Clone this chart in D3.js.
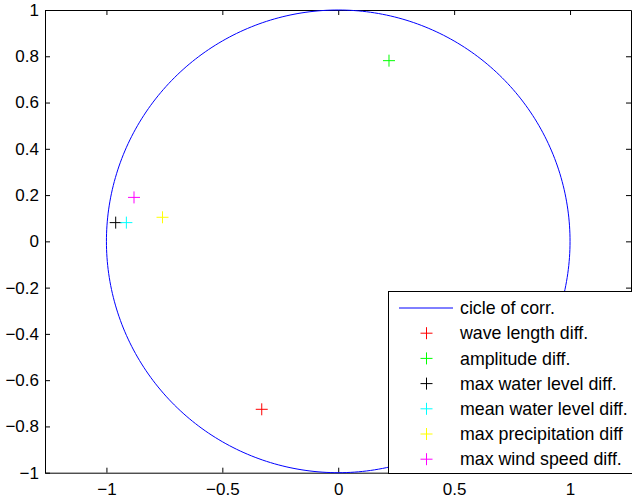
<!DOCTYPE html>
<html>
<head>
<meta charset="utf-8">
<script src="https://cdn.jsdelivr.net/npm/d3@7"></script>
<style>
  html, body { margin: 0; padding: 0; background: #fff; }
  svg { display: block; }
  text { font-family: "Liberation Sans", Arial, Helvetica, sans-serif; }
</style>
</head>
<body>
<svg id="chart" width="632" height="501"></svg>
<script>
// Correlation circle: variable loadings on two components
const seriesNames = ["wave length diff.", "amplitude diff.", "max water level diff.",
                     "mean water level diff.", "max precipitation diff", "max wind speed diff."];
const seriesColors = ["#ff0000", "#00ff00", "#000000", "#00ffff", "#ffff00", "#ff00ff"];
const xValues = [-0.33, 0.219, -0.96, -0.914, -0.758, -0.881];
const yValues = [-0.726, 0.781, 0.081, 0.081, 0.104, 0.19];
const circleLabel = "cicle of corr.";
const xTicks = [-1, -0.5, 0, 0.5, 1];
const yTicks = [-1, -0.8, -0.6, -0.4, -0.2, 0, 0.2, 0.4, 0.6, 0.8, 1];

const svg = d3.select("#chart");
const plotLeft = 45, plotRight = 631, plotTop = 10, plotBottom = 472.7;
const fontSize = 17, legendFontSize = 17.8;

const x = d3.scaleLinear().domain([-1.265, 1.263]).range([plotLeft, plotRight]);
const y = d3.scaleLinear().domain([-1, 1]).range([plotBottom, plotTop]);

const fmt = v => (v < 0 ? "\u2212" : "") + String(Math.abs(v));

// Axes box with inward ticks on all four sides
const axB = d3.axisBottom(x).tickValues(xTicks).tickSizeInner(-5).tickSizeOuter(0).tickPadding(10).tickFormat(fmt);
const axT = d3.axisTop(x).tickValues(xTicks).tickSizeInner(-5).tickSizeOuter(0).tickFormat("");
const axL = d3.axisLeft(y).tickValues(yTicks).tickSizeInner(-5).tickSizeOuter(0).tickPadding(6).tickFormat(fmt);
const axR = d3.axisRight(y).tickValues(yTicks).tickSizeInner(-5).tickSizeOuter(0).tickFormat("");

function styleAxis(g) {
  g.selectAll("path").attr("stroke", "#000").attr("stroke-width", 1);
  g.selectAll("line").attr("stroke", "#000");
  g.selectAll("text").attr("font-size", fontSize).attr("fill", "#000");
}

svg.append("g").attr("transform", `translate(0,${plotBottom})`).call(axB).call(styleAxis);
svg.append("g").attr("transform", `translate(0,${plotTop})`).call(axT).call(styleAxis);
svg.append("g").attr("transform", `translate(${plotLeft},0)`).call(axL).call(styleAxis);
svg.append("g").attr("transform", `translate(${plotRight},0)`).call(axR).call(styleAxis);

// Unit circle of correlation
const circlePts = d3.range(0, 361).map(a => [Math.cos(a * Math.PI / 180), Math.sin(a * Math.PI / 180)]);
svg.append("path")
  .attr("d", d3.line().x(d => x(d[0])).y(d => y(d[1]))(circlePts))
  .attr("fill", "none").attr("stroke", "#0000ff").attr("stroke-width", 1);

// Plus markers
function plus(g, cx, cy, color) {
  const h = 6;
  g.append("line").attr("x1", cx - h).attr("x2", cx + h).attr("y1", cy).attr("y2", cy)
    .attr("stroke", color).attr("stroke-width", 1);
  g.append("line").attr("x1", cx).attr("x2", cx).attr("y1", cy - h).attr("y2", cy + h)
    .attr("stroke", color).attr("stroke-width", 1);
}

const pts = svg.append("g");
seriesNames.forEach((name, i) => {
  plus(pts, x(xValues[i]), y(yValues[i]), seriesColors[i]);
});

// Legend
const lg = svg.append("g");
const lgLeft = 388.5, lgTop = 291.5, lgBottom = 473.5;
lg.append("rect").attr("x", lgLeft).attr("y", lgTop)
  .attr("width", 700).attr("height", lgBottom - lgTop)
  .attr("fill", "#fff").attr("stroke", "#000").attr("stroke-width", 1);

const rowY = i => 308 + i * 25.2;
const textX = 460;
lg.append("line").attr("x1", 399).attr("x2", 453).attr("y1", rowY(0)).attr("y2", rowY(0))
  .attr("stroke", "#0000ff").attr("stroke-width", 1);
lg.append("text").attr("x", textX).attr("y", rowY(0)).attr("dy", "0.35em")
  .attr("font-size", legendFontSize).text(circleLabel);
seriesNames.forEach((name, i) => {
  plus(lg, 426.5, rowY(i + 1), seriesColors[i]);
  lg.append("text").attr("x", textX).attr("y", rowY(i + 1)).attr("dy", "0.35em")
    .attr("font-size", legendFontSize).text(name);
});
</script>
</body>
</html>
